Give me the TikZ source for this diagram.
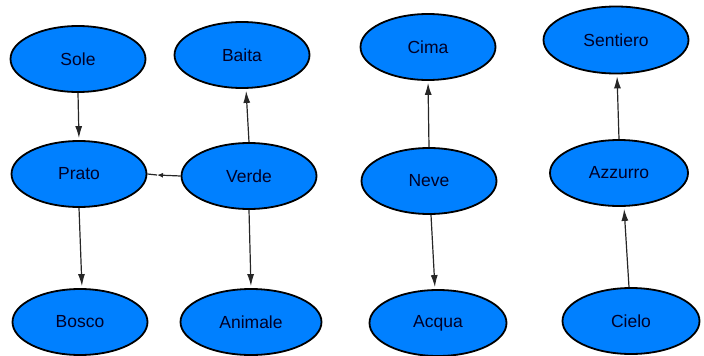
\documentclass[tikz,border=0pt]{standalone}
\usepackage{fontspec}
\setmainfont{Liberation Sans}
\usetikzlibrary{shapes.geometric,arrows.meta}
\definecolor{nodeblue}{RGB}{0,128,255}
\begin{document}
\begin{tikzpicture}[x=1pt,y=-1pt,
  concept/.style={ellipse,draw=black,line width=1.8pt,fill=nodeblue,inner sep=0pt,
    minimum width=135pt,minimum height=66pt,font=\fontsize{17.5}{19}\selectfont,text=black!85!blue},
  link/.style={draw=black!85,line width=1.2pt,-{Latex[length=12pt,width=7pt]},shorten >=2pt},
  slink/.style={draw=black!85,line width=1.2pt,-{Latex[length=6pt,width=5pt]}}]
\useasboundingbox (0,0) rectangle (704,356);
\node[concept] (sole) at (78,59) {Sole};
\node[concept] (prato) at (79,174) {Prato};
\node[concept] (bosco) at (80,322) {Bosco};
\node[concept] (baita) at (242,55) {Baita};
\node[concept] (verde) at (249,176) {Verde};
\node[concept,minimum width=141pt] (animale) at (251,322) {Animale};
\node[concept] (cima) at (428,47) {Cima};
\node[concept] (neve) at (429,181) {Neve};
\node[concept,minimum width=137pt] (acqua) at (438,323) {Acqua};
\node[concept,minimum width=145pt,minimum height=67pt] (sentiero) at (616,40) {Sentiero};
\node[concept,minimum width=138pt] (azzurro) at (619,173) {Azzurro};
\node[concept,minimum width=137pt] (cielo) at (631,321) {Cielo};
\coordinate (pvtip) at (157,175);
\draw[link] (sole.south) -- (prato.north);
\draw[link] (prato.south) -- ([xshift=2pt]bosco.north);
\draw[link] (verde.north) -- ([xshift=4pt]baita.south);
\draw[link] (verde.south) -- (animale.north);
\draw[slink] (verde.west) -- (pvtip);
\draw[draw=black!85,line width=1.2pt] (pvtip) -- (prato.east);
\draw[link] (neve.north) -- (cima.south);
\draw[link] ([xshift=2pt]neve.south) -- ([xshift=-3pt]acqua.north);
\draw[link] (azzurro.north) -- ([xshift=1pt]sentiero.south);
\draw[link] ([xshift=-2pt]cielo.north) -- ([xshift=5pt]azzurro.south);
\end{tikzpicture}
\end{document}
